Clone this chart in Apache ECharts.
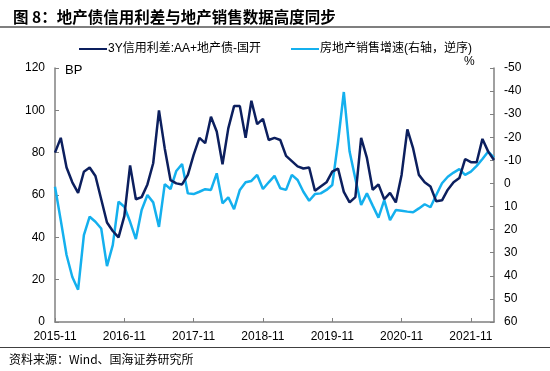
<!DOCTYPE html>
<html><head><meta charset="utf-8">
<script src="https://cdn.jsdelivr.net/npm/echarts@6/dist/echarts.min.js"></script>
<style>html,body{margin:0;padding:0;background:#fff}#c{width:550px;height:371px}</style>
</head><body><div id="c"></div>
<script>
const months = [
'2015-11','2015-12','2016-01','2016-02','2016-03','2016-04','2016-05','2016-06','2016-07','2016-08','2016-09','2016-10',
'2016-11','2016-12','2017-01','2017-02','2017-03','2017-04','2017-05','2017-06','2017-07','2017-08','2017-09','2017-10',
'2017-11','2017-12','2018-01','2018-02','2018-03','2018-04','2018-05','2018-06','2018-07','2018-08','2018-09','2018-10',
'2018-11','2018-12','2019-01','2019-02','2019-03','2019-04','2019-05','2019-06','2019-07','2019-08','2019-09','2019-10',
'2019-11','2019-12','2020-01','2020-02','2020-03','2020-04','2020-05','2020-06','2020-07','2020-08','2020-09','2020-10',
'2020-11','2020-12','2021-01','2021-02','2021-03','2021-04','2021-05','2021-06','2021-07','2021-08','2021-09','2021-10',
'2021-11','2021-12','2022-01','2022-02','2022-03'];
const spreadName = '3Y信用利差:AA+地产债-国开';
const spreadBP = [80,87,73,66,61,71,73,69,58,47,43,40,
50,74,58,59,65,75,100,82,67,65.5,65,69.5,
79,87,84.5,97,90,74.5,91.5,102,102,87,104.5,93.5,
96,86,87,86,78.5,76,73.5,72.5,73,62,64,66,
71,72.5,61.5,56.5,59,87,77.5,62.5,65,58,61,56.5,
69.5,91,82,69.5,66,64,57,57.5,62.5,66,68,77,
75.5,75.5,86.5,80.5,76.5];
const salesName = '房地产销售增速(右轴，逆序)';
const salesGrowth = [1.4,16,31,40.5,46,22.4,14.4,16.6,19.5,35.8,26.7,7.9,
10.1,16.6,24.1,11.5,5,8.2,18.8,0.3,2.4,-5.4,-8.4,4.3,
4.6,3.6,2.5,2.8,-4.4,8.6,6,11.1,2.8,-0.5,-1.1,-3.7,
2.4,-0.5,-3.3,2.1,2.8,-3.7,-1.5,3.6,7.5,4.6,4.3,2.8,
0.7,-18,-39.6,-13.8,-2,9.3,4.3,9.6,14.8,7.2,15.9,11.5,
11.8,12.2,12.5,10.8,9,10.3,5,-0.1,-2.9,-4.7,-6.2,-3.7,
-5.1,-7.6,-10.6,-13.8,-11.2];
const leftTicks = {min:0, max:120, interval:20};
const rightTicks = {min:-50, max:60, interval:10};

const FONT = '"Liberation Sans", Arial, "Noto Sans CJK SC", sans-serif';
const axisColor = '#808080';
const chart = echarts.init(document.getElementById('c'), null, {renderer:'canvas'});
chart.setOption({
  animation:false,
  backgroundColor:'#fff',
  textStyle:{fontFamily:FONT},
  title:{text:'图 8：地产债信用利差与地产销售数据高度同步', left:8, top:4,
    textStyle:{fontSize:15.5, fontWeight:'bold', color:'#000', fontFamily:'"Noto Sans CJK SC", sans-serif'}},
  legend:{left:74, top:38, itemGap:30, itemWidth:28, itemHeight:2, icon:'rect',
    textStyle:{fontSize:12, color:'#000', padding:[0,0,0,-4], fontFamily:FONT},
    data:[spreadName, salesName]},
  grid:{left:55, right:56, top:68, bottom:49, containLabel:false},
  xAxis:{type:'category', data:months, boundaryGap:false,
    axisLine:{lineStyle:{color:axisColor, width:1.5}},
    axisTick:{inside:true, interval:11, length:4, lineStyle:{color:axisColor}},
    axisLabel:{interval:11, color:'#000', fontSize:12, margin:9, fontFamily:FONT}},
  yAxis:[
    {type:'value', min:leftTicks.min, max:leftTicks.max, interval:leftTicks.interval,
     axisLine:{show:true, lineStyle:{color:axisColor, width:1.5}},
     axisTick:{show:true, inside:true, length:4, lineStyle:{color:axisColor}},
     splitLine:{show:false},
     axisLabel:{color:'#000', fontSize:12, margin:10, fontFamily:FONT}},
    {type:'value', inverse:true, min:rightTicks.min, max:rightTicks.max, interval:rightTicks.interval,
     position:'right',
     axisLine:{show:true, lineStyle:{color:axisColor, width:1.5}},
     axisTick:{show:true, inside:true, length:4, lineStyle:{color:axisColor}},
     splitLine:{show:false},
     axisLabel:{color:'#000', fontSize:12, margin:10, fontFamily:FONT}}
  ],
  graphic:[
    {type:'line', shape:{x1:0,y1:27,x2:550,y2:27}, style:{stroke:'#7f7f7f', lineWidth:2}},
    {type:'line', shape:{x1:0,y1:347.5,x2:550,y2:347.5}, style:{stroke:'#404040', lineWidth:1}},
    {type:'text', left:9, top:353, style:{text:'资料来源：Wind、国海证券研究所', fill:'#000', font:'12px "Noto Sans CJK SC", sans-serif'}},
    {type:'text', left:65, top:64, style:{text:'BP', fill:'#000', font:'13px "Liberation Sans", Arial, sans-serif'}},
    {type:'text', left:464, top:56, style:{text:'%', fill:'#000', font:'12px "Liberation Sans", Arial, sans-serif'}}
  ],
  series:[
    {name:spreadName, type:'line', yAxisIndex:0, data:spreadBP, symbol:'none',
     lineStyle:{color:'#0c1f5e', width:2.5}, itemStyle:{color:'#0c1f5e'}},
    {name:salesName, type:'line', yAxisIndex:1, data:salesGrowth, symbol:'none', z:1,
     lineStyle:{color:'#14b0ee', width:2.5}, itemStyle:{color:'#14b0ee'}}
  ]
});
</script></body></html>
